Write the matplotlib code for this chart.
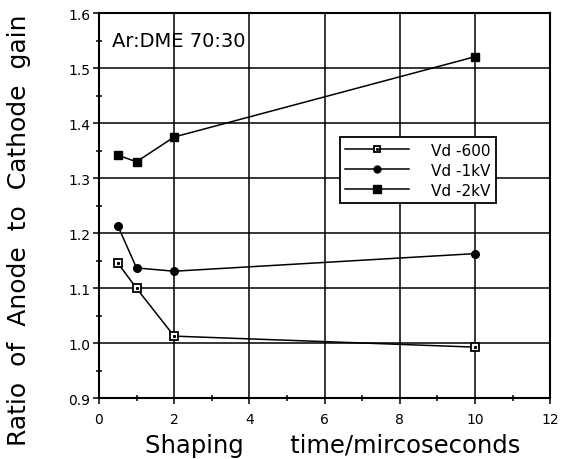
import numpy as np
import matplotlib.pyplot as plt
from matplotlib.ticker import MultipleLocator
from matplotlib.legend_handler import HandlerTuple

# shaping times (microseconds)
shaping = [0.5, 1, 2, 10]
# ratio of anode to cathode gain for each drift voltage
vd_600 = [1.146, 1.100, 1.013, 0.993]
vd_1kv = [1.214, 1.137, 1.131, 1.163]
vd_2kv = [1.342, 1.330, 1.375, 1.521]
labels = ['Vd -600', 'Vd -1kV', 'Vd -2kV']

plt.rcParams['font.family'] = ['DejaVu Sans']

fig = plt.figure(figsize=(5.62, 4.6), dpi=100)
ax = fig.add_axes([0.176, 0.132, 0.803, 0.837])

l600, = ax.plot(shaping, vd_600, '-', color='black', lw=1.1, marker='s', ms=5.5,
                mfc='white', mec='black', mew=1.3, zorder=3)
# small dot in the middle of the open squares
d600, = ax.plot(shaping, vd_600, ls='none', marker='s', ms=1.2, color='black', zorder=4)
l1k, = ax.plot(shaping, vd_1kv, '-', color='black', lw=1.1, marker='o', ms=5.5,
               mfc='black', mec='black', zorder=3)
l2k, = ax.plot(shaping, vd_2kv, '-', color='black', lw=1.1, marker='s', ms=6,
               mfc='black', mec='black', zorder=3)

ax.set_xlim(0, 12)
ax.set_ylim(0.9, 1.6)
ax.xaxis.set_major_locator(MultipleLocator(2))
ax.xaxis.set_minor_locator(MultipleLocator(1))
ax.yaxis.set_major_locator(MultipleLocator(0.1))
ax.yaxis.set_minor_locator(MultipleLocator(0.05))
ax.set_yticks(np.arange(0.9, 1.61, 0.1))
ax.set_yticklabels(['%.1f' % v for v in np.arange(0.9, 1.61, 0.1)])
ax.grid(True, which='major', color='black', lw=1.1)
ax.tick_params(which='both', labelsize=10, top=False, right=False, width=1.1)
ax.tick_params(which='major', direction='out', length=4)
ax.tick_params(which='minor', direction='inout', length=4)
ax.tick_params(axis='x', pad=6)
ax.tick_params(axis='y', pad=2)
for s in ax.spines.values():
    s.set_linewidth(1.5)

ax.text(0.029, 0.955, 'Ar:DME 70:30', transform=ax.transAxes, fontsize=14,
        va='top', ha='left')

leg = ax.legend([(l600, d600), l1k, l2k], labels,
                handler_map={tuple: HandlerTuple(ndivide=1)},
                loc='upper left', bbox_to_anchor=(0.534, 0.678), borderaxespad=0,
                fontsize=11, frameon=True, fancybox=False, edgecolor='black',
                framealpha=1, handlelength=4.2, labelspacing=0.33, borderpad=0.35,
                handletextpad=1.4, markerscale=0.9)
leg.get_frame().set_linewidth(1.3)

fig.text(0.592, 0.015, 'Shaping      time/mircoseconds', fontsize=17.5,
         ha='center', va='baseline')
fig.text(0.034, 0.5, 'Ratio  of  Anode  to  Cathode  gain', fontsize=18,
         rotation=90, ha='center', va='center')

fig.savefig('out.png', dpi=100)
